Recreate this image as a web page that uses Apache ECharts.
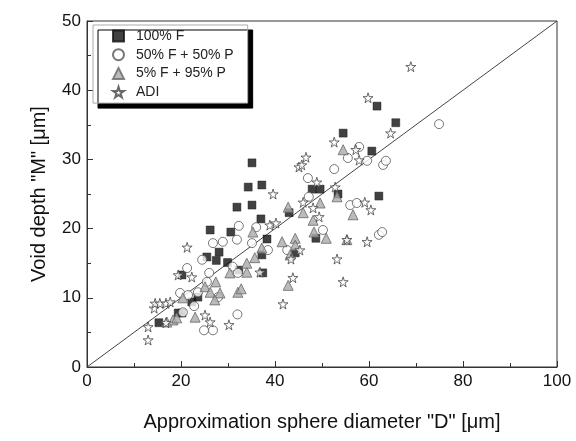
<!DOCTYPE html>
<html>
<head>
<meta charset="utf-8">
<title>Void depth vs sphere diameter</title>
<script src="https://cdn.jsdelivr.net/npm/echarts@6/dist/echarts.min.js"></script>
<style>
  * { margin: 0; padding: 0; }
  html, body { width: 576px; height: 441px; background: #fff; }
  #chart { width: 576px; height: 441px; }
</style>
</head>
<body>
<div id="chart"></div>
<script>
// data: [D, M]
var seriesNames = ['100% F', '50% F + 50% P', '5% F + 95% P', 'ADI'];

var pureF = [
  [15.3,6.4],[19.4,7.8],[20.2,7.8],[20.2,13.3],[22.3,9.4],[23.6,10.1],[25.5,15.9],[27.5,15.4],
  [28.1,16.6],[29.9,15.1],[26.2,19.8],[30.6,19.5],[31.9,23.1],[35.1,23.4],[35.1,29.5],[34.3,26.0],
  [37.2,26.3],[37.0,21.4],[38.3,18.5],[37.2,16.2],[37.4,13.6],[32.3,14.0],[43.0,22.3],[44.3,16.5],
  [47.9,25.7],[49.6,25.7],[48.7,18.6],[53.4,25.0],[54.5,33.8],[60.6,31.2],[61.7,37.7],[62.1,24.7],
  [65.7,35.3]
];
var halfF = [
  [19.8,10.7],[20.4,7.9],[21.3,14.3],[21.5,10.4],[22.8,8.8],[23.6,10.8],[24.5,15.5],[24.9,5.3],
  [26.8,5.3],[25.5,12.3],[26.0,13.6],[26.8,17.9],[28.9,18.1],[27.9,10.1],[31.0,14.5],[32.1,13.6],
  [31.9,18.4],[32.3,20.4],[32.0,7.6],[35.1,17.9],[36.0,20.2],[38.5,16.9],[42.6,16.9],[47.0,27.3],
  [47.2,24.6],[50.2,19.8],[52.6,28.6],[55.5,30.2],[57.9,31.8],[56.0,23.4],[57.4,23.7],[59.6,29.8],
  [63.0,29.2],[63.6,29.8],[62.1,19.1],[62.8,19.5],[74.9,35.1]
];
var lowF = [
  [17.0,6.5],[18.3,6.8],[19.1,7.1],[20.4,10.0],[23.0,7.2],[25.1,11.6],[27.4,12.3],[26.2,10.8],
  [28.3,10.7],[27.2,9.7],[30.4,13.6],[32.1,10.8],[32.8,11.3],[34.0,13.7],[34.0,15.0],[35.7,15.8],
  [35.3,19.5],[37.2,17.2],[41.5,18.1],[44.3,18.6],[44.3,17.6],[43.2,16.2],[42.8,11.8],[42.8,23.1],
  [46.0,22.3],[48.1,21.2],[49.6,23.7],[48.3,19.5],[50.9,18.6],[53.2,24.6],[54.5,31.4],[55.3,18.4],
  [56.6,22.0]
];
var adi = [
  [13.0,3.9],[13.0,5.8],[14.3,8.5],[14.5,9.2],[15.5,9.2],[16.8,9.2],[17.7,9.4],[16.8,6.4],
  [19.4,13.3],[22.3,13.0],[21.3,17.3],[25.1,7.5],[26.2,6.5],[30.2,6.1],[36.8,13.7],[38.9,20.5],
  [40.2,20.8],[39.6,25.0],[41.7,9.1],[43.8,12.9],[43.4,15.6],[45.3,16.9],[45.1,28.9],[45.7,29.2],
  [46.6,30.3],[46.0,23.8],[48.1,23.0],[49.4,21.7],[48.9,26.7],[52.8,26.0],[52.6,32.5],[53.2,15.6],
  [54.5,12.3],[55.3,18.4],[57.2,31.4],[57.9,29.9],[59.1,23.8],[60.4,22.7],[59.6,18.1],[59.8,38.9],
  [64.6,33.8],[68.9,43.4]
];
// reference line M = D / 2
var lineD = [0, 100];
var lineM = [0, 50];

var starPath = 'path://M50,0 L61,35 L98,35 L68,57 L79,91 L50,70 L21,91 L32,57 L2,35 L39,35 Z';
var font = 'Liberation Sans, Arial, sans-serif';

var chart = echarts.init(document.getElementById('chart'));
chart.setOption({
  animation: false,
  grid: { left: 87, right: 19, top: 21, bottom: 74, show: true, borderColor: '#333', borderWidth: 1 },
  legend: {
    orient: 'vertical',
    left: 93, top: 25,
    data: seriesNames,
    itemWidth: 11, itemHeight: 11, itemGap: 4.7,
    padding: [4, 14, 4, 19],
    backgroundColor: '#fff',
    borderColor: '#aaa', borderWidth: 1,
    shadowColor: '#000', shadowBlur: 0, shadowOffsetX: 5, shadowOffsetY: 5,
    formatter: '{t|{name}}',
    textStyle: {
      fontFamily: font, fontSize: 14, color: '#222',
      rich: { t: { fontFamily: font, fontSize: 14, color: '#222', padding: [0, 0, 0, 7] } }
    }
  },
  xAxis: {
    type: 'value', min: 0, max: 100, interval: 20,
    name: 'Approximation sphere diameter "D" [\u03bcm]',
    nameLocation: 'middle', nameGap: 45,
    nameTextStyle: { fontFamily: font, fontSize: 20, color: '#111' },
    axisLine: { lineStyle: { color: '#333' } },
    axisTick: { inside: true, length: 6, lineStyle: { color: '#333' } },
    minorTick: { show: true, splitNumber: 2, length: 4, lineStyle: { color: '#333' } },
    splitLine: { show: false },
    axisLabel: { fontFamily: font, fontSize: 17, color: '#111', margin: 6 }
  },
  yAxis: {
    type: 'value', min: 0, max: 50, interval: 10,
    name: 'Void depth "M" [\u03bcm]',
    nameLocation: 'middle', nameGap: 38,
    nameTextStyle: { fontFamily: font, fontSize: 20, color: '#111' },
    axisLine: { lineStyle: { color: '#333' } },
    axisTick: { inside: true, length: 6, lineStyle: { color: '#333' } },
    minorTick: { show: true, splitNumber: 2, length: 4, lineStyle: { color: '#333' } },
    splitLine: { show: false },
    axisLabel: { fontFamily: font, fontSize: 17, color: '#111', margin: 6 }
  },
  series: [
    {
      type: 'line', silent: true, symbol: 'none', z: 1,
      data: lineD.map(function (d, i) { return [d, lineM[i]]; }),
      lineStyle: { color: '#444', width: 1 }
    },
    {
      name: seriesNames[0], type: 'scatter', data: pureF, symbol: 'rect', symbolSize: 8,
      itemStyle: { color: '#111', borderColor: '#111', borderWidth: 0.5 }
    },
    {
      name: seriesNames[1], type: 'scatter', data: halfF, symbol: 'circle', symbolSize: 9,
      itemStyle: { color: '#fff', borderColor: '#555', borderWidth: 1 }
    },
    {
      name: seriesNames[2], type: 'scatter', data: lowF, symbol: 'triangle', symbolSize: 10,
      itemStyle: { color: '#aaa', borderColor: '#666', borderWidth: 1 }
    },
    {
      name: seriesNames[3], type: 'scatter', data: adi, symbol: starPath, symbolSize: 10,
      itemStyle: { color: '#fff', borderColor: '#444', borderWidth: 1 }
    }
  ]
});
</script>
</body>
</html>
